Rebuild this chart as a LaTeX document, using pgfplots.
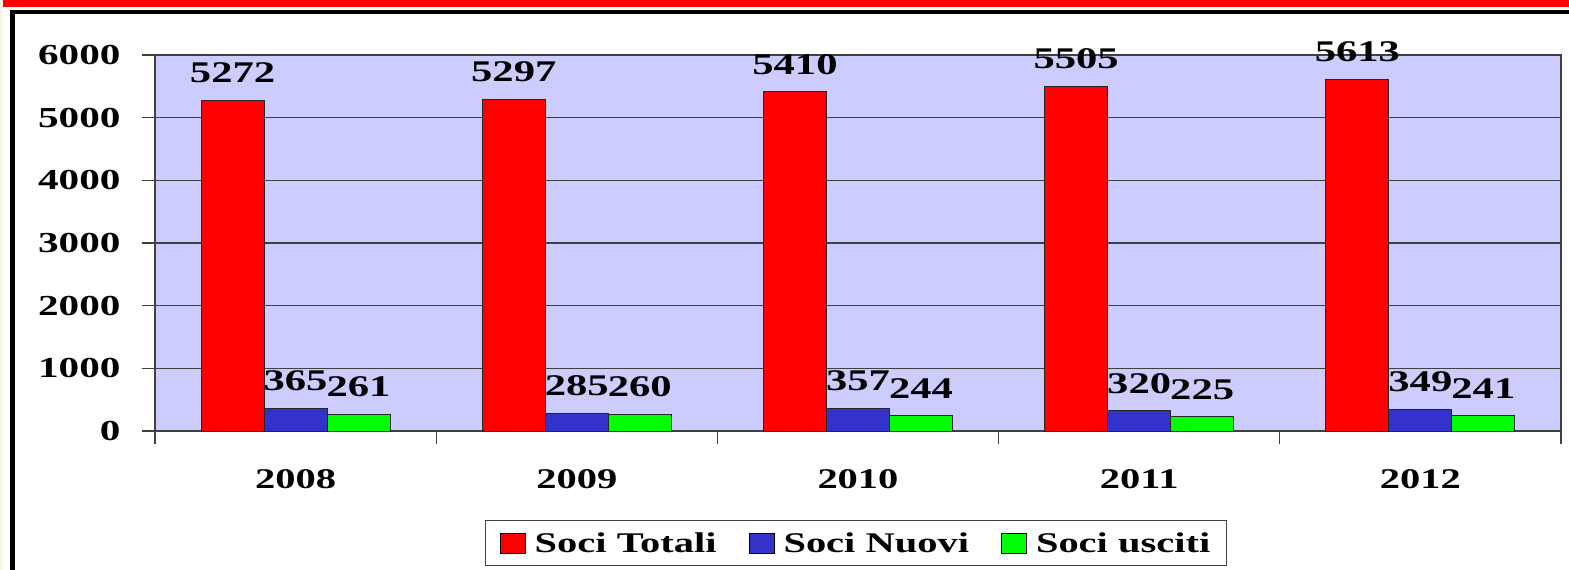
\documentclass[border=0pt]{standalone}
\usepackage{fontspec}
\setmainfont{Liberation Serif}[FakeStretch=1.42]
\usepackage{pgfplots}
\pgfplotsset{compat=1.18}
\definecolor{bg}{HTML}{CCCCFF}
\definecolor{cred}{HTML}{FF0000}
\definecolor{cblue}{HTML}{3333CC}
\definecolor{cgreen}{HTML}{00FF00}
\definecolor{cream}{HTML}{F8F4E4}
\definecolor{axgray}{HTML}{404040}
\begin{document}
\begin{tikzpicture}
\useasboundingbox (0,0) rectangle (1569bp,570bp);
\fill[white] (0,0) rectangle (1569bp,570bp);
\fill[cream] (0,0) rectangle (3bp,570bp);
\fill[cred] (3bp,563bp) rectangle (1569bp,570bp);
\fill[black] (10bp,556bp) rectangle (1569bp,560bp);
\fill[black] (10bp,0) rectangle (15bp,560bp);
\begin{axis}[
  at={(155bp,139bp)}, anchor=south west,
  scale only axis, width=1406bp, height=376bp,
  ybar=0pt, bar width=63bp,
  xmin=-0.5, xmax=4.5, ymin=0, ymax=6000,
  xtick={-0.5,0.5,1.5,2.5,3.5,4.5}, xticklabels={},
  extra x ticks={0,1,2,3,4},
  extra x tick labels={2008,2009,2010,2011,2012},
  extra x tick style={major tick length=0pt},
  ytick={0,1000,...,6000},
  tick pos=left, tick align=outside,
  major tick length=13bp,
  tick style={draw=axgray, line width=1.3bp},
  axis line style={draw=axgray, line width=1.5bp},
  ymajorgrids, grid style={draw=axgray, line width=1.3bp},
  axis background/.style={fill=bg},
  /pgf/number format/assume math mode=true,
  /pgf/number format/1000 sep={},
  yticklabel style={font=\fontsize{29bp}{31bp}\selectfont\bfseries, xshift=-18bp},
  xticklabel style={font=\fontsize{28.5bp}{30bp}\selectfont\bfseries, yshift=-35bp},
  clip=false,
  nodes near coords,
  nodes near coords style={font=\fontsize{30bp}{32bp}\selectfont\bfseries, inner sep=0pt, yshift=17bp},
  legend columns=3,
  legend image code/.code={\draw[#1,draw=black,line width=1bp] (0bp,-10bp) rectangle (25bp,10bp);},
  legend style={at={(0.4986,-0.298)}, anchor=center, draw=axgray, line width=1.2bp,
    font=\fontsize{28.5bp}{30bp}\selectfont\bfseries, inner xsep=14bp, inner ysep=10bp,
    /tikz/every odd column/.append style={column sep=7bp},
    /tikz/every even column/.append style={column sep=30bp}},
]
\addplot[fill=cred, draw=black!85, line width=1bp] coordinates {(0,5272) (1,5297) (2,5410) (3,5505) (4,5613)};
\addplot[fill=cblue, draw=black!85, line width=1bp] coordinates {(0,365) (1,285) (2,357) (3,320) (4,349)};
\addplot[fill=cgreen, draw=black!85, line width=1bp] coordinates {(0,261) (1,260) (2,244) (3,225) (4,241)};
\legend{Soci Totali, Soci Nuovi, Soci usciti}
\end{axis}
\end{tikzpicture}
\end{document}
